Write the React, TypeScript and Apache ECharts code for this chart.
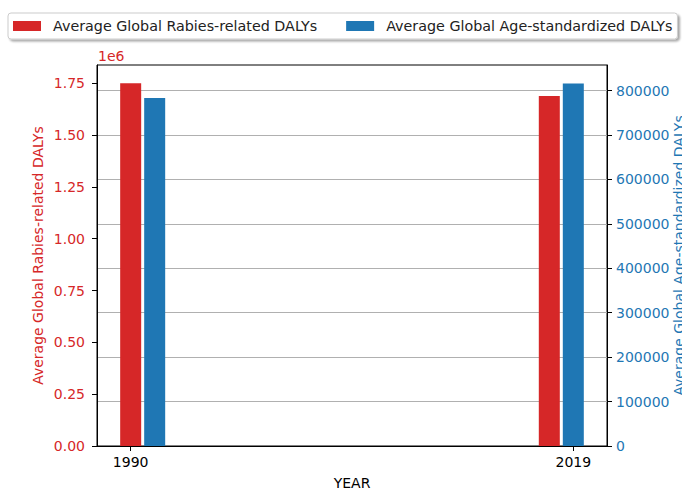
import React, { useEffect, useRef } from "react";
import * as echarts from "echarts";

const years = [1990, 2019];
const yearLabels = ["1990", "2019"];
const rabiesDalys = [1750000, 1689000];
const ageStdDalys = [783500, 816000];
const leftTicks = [0, 0.25, 0.5, 0.75, 1.0, 1.25, 1.5, 1.75];
const rightTicks = [0, 100000, 200000, 300000, 400000, 500000, 600000, 700000, 800000];

const RED = "#d62728";
const BLUE = "#1f77b4";
const FONT = "DejaVu Sans";

const BAR_W = 1.455;
const BAR_OFF = 1.663;
const X_MIN = 1987.667;
const X_MAX = 2022.997;

export default function App() {
  const ref = useRef<HTMLDivElement>(null);
  useEffect(() => {
    if (!ref.current) return;
    const chart = echarts.init(ref.current, undefined, { renderer: "svg" });

    const tickPos = [years[0], years[1] + BAR_OFF];

    const makeBar = (color: string) => (params: any, api: any) => {
      const x = api.value(0);
      const y = api.value(1);
      const p0 = api.coord([x - BAR_W / 2, 0]);
      const p1 = api.coord([x + BAR_W / 2, y]);
      return {
        type: "rect",
        shape: { x: p0[0], y: p1[1], width: p1[0] - p0[0], height: p0[1] - p1[1] },
        style: { fill: color },
      };
    };

    chart.setOption({
      animation: false,
      textStyle: { fontFamily: FONT },
      legend: {
        left: 8,
        top: 13,
        width: 662,
        padding: [6, 5, 6, 5],
        itemWidth: 28,
        itemHeight: 10,
        itemGap: 29,
        icon: "rect",
        backgroundColor: "#fff",
        borderColor: "#cccccc",
        borderWidth: 1,
        borderRadius: 3,
        shadowColor: "rgba(0,0,0,0.35)",
        shadowOffsetX: 2,
        shadowOffsetY: 2,
        shadowBlur: 2,
        textStyle: { fontFamily: FONT, fontSize: 14.3, color: "#222", padding: [0, 0, 0, 7] },
        data: [
          { name: "Average Global Rabies-related DALYs", itemStyle: { color: RED } },
          { name: "Average Global Age-standardized DALYs", itemStyle: { color: BLUE } },
        ],
      },
      grid: {
        left: 97,
        right: 75,
        top: 65,
        bottom: 46,
        outerBoundsMode: "none",
        containLabel: false,
        show: true,
        borderColor: "#000",
        borderWidth: 1,
        backgroundColor: "transparent",
      },
      xAxis: {
        type: "value",
        min: X_MIN,
        max: X_MAX,
        name: "YEAR",
        nameLocation: "middle",
        nameGap: 30,
        nameMoveOverlap: false,
        nameTextStyle: { fontFamily: FONT, fontSize: 14, color: "#000" },
        axisLine: { show: true, onZero: false, lineStyle: { color: "#000", width: 1 } },
        axisTick: { show: true, length: 5, customValues: tickPos, lineStyle: { color: "#000" } },
        axisLabel: {
          customValues: tickPos,
          margin: 9,
          fontFamily: FONT,
          fontSize: 14,
          color: "#000",
          formatter: (v: number) => {
            const i = tickPos.findIndex((t) => Math.abs(t - v) < 1e-6);
            return i >= 0 ? yearLabels[i] : "";
          },
        },
        splitLine: { show: false },
      },
      yAxis: [
        {
          type: "value",
          min: 0,
          max: 1838000,
          position: "left",
          name: "Average Global Rabies-related DALYs",
          nameLocation: "middle",
          nameRotate: 90,
          nameGap: 52,
          nameMoveOverlap: false,
          nameTextStyle: { fontFamily: FONT, fontSize: 14, color: RED },
          axisLine: { show: true, lineStyle: { color: "#000" } },
          axisTick: { show: true, length: 5, customValues: leftTicks.map((t) => t * 1e6), lineStyle: { color: "#000" } },
          axisLabel: {
            customValues: leftTicks.map((t) => t * 1e6),
            margin: 12,
            fontFamily: FONT,
            fontSize: 14,
            color: RED,
            formatter: (v: number) => (v / 1e6).toFixed(2),
          },
          splitLine: { show: false },
        },
        {
          type: "value",
          min: 0,
          max: 857500,
          interval: 100000,
          position: "right",
          name: "Average Global Age-standardized DALYs",
          nameLocation: "middle",
          nameRotate: 90,
          nameGap: 65,
          nameMoveOverlap: false,
          nameTextStyle: { fontFamily: FONT, fontSize: 14, color: BLUE },
          axisLine: { show: true, lineStyle: { color: "#000" } },
          axisTick: { show: true, length: 5, customValues: rightTicks, lineStyle: { color: "#000" } },
          axisLabel: {
            customValues: rightTicks,
            margin: 9,
            fontFamily: FONT,
            fontSize: 14,
            color: BLUE,
            formatter: (v: number) => String(v),
          },
          splitLine: { show: true, lineStyle: { color: "#b0b0b0", width: 1 } },
        },
      ],
      graphic: [
        {
          type: "text",
          left: 98,
          top: 49,
          style: { text: "1e6", fontFamily: FONT, fontSize: 14, fill: RED },
        },
      ],
      series: [
        {
          name: "Average Global Rabies-related DALYs",
          type: "custom",
          yAxisIndex: 0,
          itemStyle: { color: RED },
          encode: { x: 0, y: 1 },
          renderItem: makeBar(RED),
          data: years.map((y, i) => [y, rabiesDalys[i]]),
        },
        {
          name: "Average Global Age-standardized DALYs",
          type: "custom",
          yAxisIndex: 1,
          itemStyle: { color: BLUE },
          encode: { x: 0, y: 1 },
          renderItem: makeBar(BLUE),
          data: years.map((y, i) => [y + BAR_OFF, ageStdDalys[i]]),
        },
      ],
    });
    return () => chart.dispose();
  }, []);
  return <div ref={ref} style={{ width: 682, height: 492, position: "absolute", left: 0, top: 0 }} />;
}
